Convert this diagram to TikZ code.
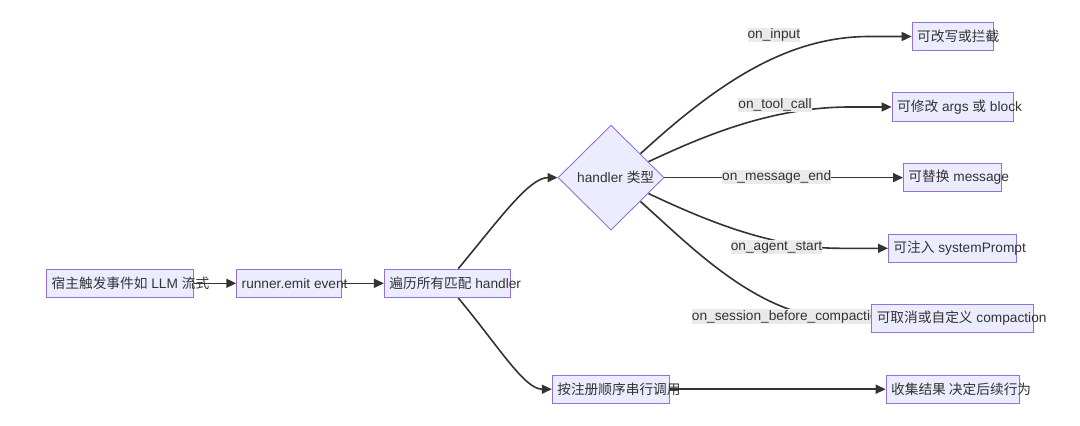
\documentclass[tikz,border=0pt]{standalone}
\usepackage{fontspec}
\setmainfont{Liberation Sans}
\newfontfamily\cjkfont{Noto Sans CJK SC}
\newcommand\zht[1]{{\cjkfont #1}}
\usetikzlibrary{arrows.meta,shapes.geometric,calc}
\definecolor{boxfill}{HTML}{ECECFF}
\definecolor{boxline}{HTML}{9370DB}
\definecolor{edgecol}{HTML}{333333}
\definecolor{lblbg}{HTML}{EAEAEA}
\definecolor{txtcol}{HTML}{333333}
\pgfdeclarelayer{edgelayer}
\pgfsetlayers{edgelayer,main}
\begin{document}
\begin{tikzpicture}[x=1pt,y=-1pt,
  every node/.style={font=\fontsize{13.7}{16}\selectfont, text=txtcol},
  procbox/.style={draw=boxline, fill=boxfill, line width=0.9pt, rectangle, minimum height=28.4pt, inner xsep=5pt, inner ysep=0pt},
  decide/.style={draw=boxline, fill=boxfill, line width=0.9pt, diamond, aspect=1, minimum width=106pt, minimum height=105pt, inner sep=0pt},
  flow/.style={draw=edgecol, line width=1.6pt, -{Triangle[length=10pt,width=9pt]}},
  elabel/.style={fill=lblbg, inner xsep=0pt, inner ysep=0.5pt, text height=10.5pt, text depth=3pt}
]
\useasboundingbox (0,0) rectangle (1080,426);

% nodes
\node[procbox, minimum width=146.7pt] (b1) at (120,283.3) {\makebox[136.7pt][l]{\zht{宿主触发事件如} LLM \zht{流式}}};
\node[procbox, minimum width=105pt] (b2) at (289.2,283.3) {\makebox[95pt][l]{runner.emit event}};
\node[procbox, minimum width=125.7pt] (b3) at (447.2,283.3) {\makebox[115.7pt][l]{\zht{遍历所有匹配} handler}};
\node[decide] (dia) at (611,177.6) {\hspace*{9.4pt}handler \zht{类型}};
\node[procbox, minimum width=81pt] (t1) at (952.6,36.5) {\makebox[71pt][l]{\zht{可改写或拦截}}};
\node[procbox, minimum width=121pt] (t2) at (952.6,107) {\makebox[111pt][l]{\zht{可修改} args \zht{或} block}};
\node[procbox, minimum width=98.3pt] (t3) at (952.6,177.6) {\makebox[88.3pt][l]{\zht{可替换} message}};
\node[procbox, minimum width=128.3pt] (t4) at (952.6,248.3) {\makebox[118.3pt][l]{\zht{可注入} systemPrompt}};
\node[procbox, minimum width=161.7pt] (t5) at (952.6,318.5) {\makebox[151.7pt][l]{\zht{可取消或自定义} compaction}};
\node[procbox, minimum width=117pt] (p1) at (610.8,389.2) {\makebox[107pt][l]{\zht{按注册顺序串行调用}}};
\node[procbox, minimum width=133pt] (p2) at (952.6,389.2) {\makebox[123pt][l]{\zht{收集结果 决定后续行为}}};

\begin{pgfonlayer}{edgelayer}
\draw[flow] (b1.east) -- (b2.west);
\draw[flow] (b2.east) -- (b3.west);
\draw[flow] ([xshift=11.1pt]b3.north) .. controls +(41.7,-50.3) and +(-28.3,0) .. (dia.west);
\draw[flow] ([xshift=11.1pt]b3.south) .. controls +(41.7,50.4) and +(-27.3,0) .. (p1.west);
\draw[flow] ($(dia.north)!0.55!(dia.east)$) .. controls +(80,-73.5) and +(-80,0) .. ([xshift=-42.3pt]t1.west) -- (t1.west);
\draw[flow] ($(dia.north)!0.7!(dia.east)$) .. controls +(52,-24.2) and +(-80,0) .. ([xshift=-42pt]t2.west) -- (t2.west);
\draw[flow] (dia.east) -- (t3.west);
\draw[flow] ($(dia.south)!0.7!(dia.east)$) .. controls +(52,24.5) and +(-70,0) .. ([xshift=-48pt]t4.west) -- (t4.west);
\draw[flow] ($(dia.south)!0.55!(dia.east)$) .. controls +(50,44.5) and +(-80,0) .. ([xshift=-31.7pt]t5.west) -- (t5.west);
\draw[flow] (p1.east) -- (p2.west);
\node[elabel] (l1) at (773.8,35) {on\_input};
\node[elabel] (l2) at (775,105) {on\_tool\_call};
\node[elabel] (l3) at (776.7,176.9) {on\_message\_end};
\node[elabel] (l4) at (776.5,246.9) {on\_agent\_start};
\node[elabel, anchor=west] (l5) at (691.7,316.5) {on\_session\_before\_compaction};
\end{pgfonlayer}
\end{tikzpicture}
\end{document}
